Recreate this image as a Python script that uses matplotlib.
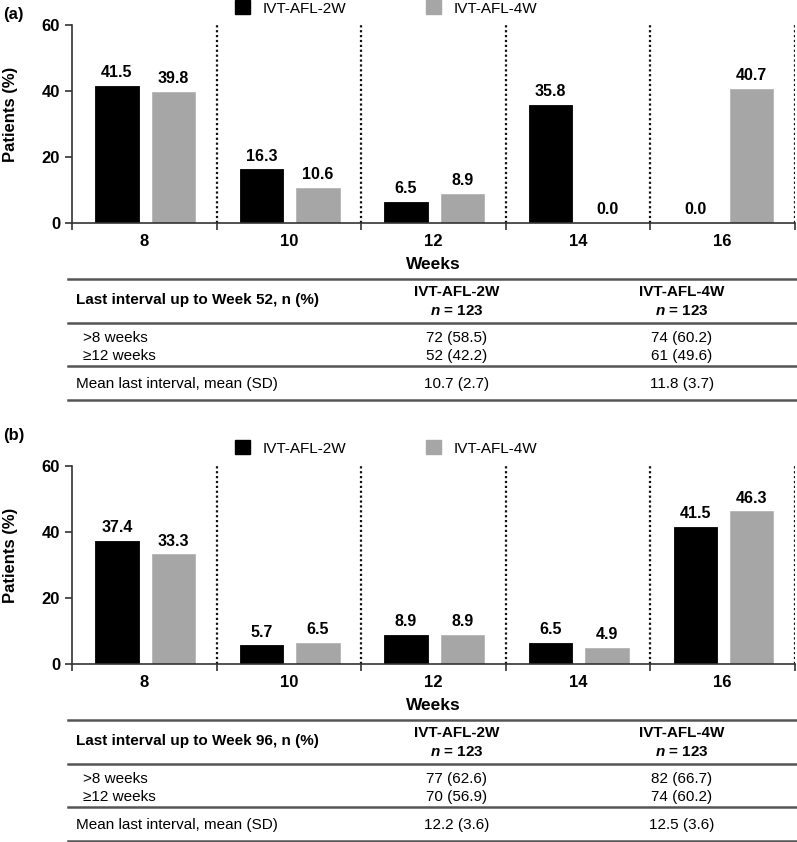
import matplotlib.pyplot as plt
from matplotlib.lines import Line2D
from matplotlib.patches import Patch
import numpy as np

plt.rcParams['font.family'] = ['Liberation Sans', 'DejaVu Sans']

weeks = ['8', '10', '12', '14', '16']
a_2w = [41.5, 16.3, 6.5, 35.8, 0.0]
a_4w = [39.8, 10.6, 8.9, 0.0, 40.7]
b_2w = [37.4, 5.7, 8.9, 6.5, 41.5]
b_4w = [33.3, 6.5, 8.9, 4.9, 46.3]

groups = ['IVT-AFL-2W', 'IVT-AFL-4W']
row_labels = ['>8 weeks', '\u226512 weeks']
mean_label = 'Mean last interval, mean (SD)'
a_title = 'Last interval up to Week 52, n (%)'
b_title = 'Last interval up to Week 96, n (%)'
a_rows = [['72 (58.5)', '74 (60.2)'], ['52 (42.2)', '61 (49.6)']]
b_rows = [['77 (62.6)', '82 (66.7)'], ['70 (56.9)', '74 (60.2)']]
a_mean = ['10.7 (2.7)', '11.8 (3.7)']
b_mean = ['12.2 (3.6)', '12.5 (3.6)']

W, H = 797, 842
black = '#000000'
grey = '#a6a6a6'

plt.rcParams['mathtext.fontset'] = 'custom'
plt.rcParams['mathtext.it'] = 'Liberation Sans:italic'
plt.rcParams['mathtext.bf'] = 'Liberation Sans:bold'
plt.rcParams['mathtext.bfit'] = 'Liberation Sans:bold:italic'
plt.rcParams['mathtext.rm'] = 'Liberation Sans'

fig = plt.figure(figsize=(W / 100, H / 100), dpi=100)


def fx(x):
    return x / W


def fy(y):
    return 1 - y / H


def panel(top, letter, letter_y, legend_y, v2, v4, title, rows, means):
    # top = pixel y of the 60 line
    bottom = top + 198
    ax = fig.add_axes([fx(72), fy(bottom), fx(795) - fx(72), (bottom - top) / H])
    x = np.arange(len(weeks))
    ax.bar(x + 0.31, v2, width=0.30, color=black, edgecolor=black, linewidth=0.6)
    ax.bar(x + 0.70, v4, width=0.30, color=grey, edgecolor='#b5b5b5', linewidth=0.6)
    for i in range(len(weeks)):
        ax.annotate(f'{v2[i]:.1f}', (x[i] + 0.31, v2[i]), xytext=(0, 4),
                    textcoords='offset points', ha='center', va='bottom',
                    fontsize=11.5, fontweight='bold')
        ax.annotate(f'{v4[i]:.1f}', (x[i] + 0.70, v4[i]), xytext=(0, 4),
                    textcoords='offset points', ha='center', va='bottom',
                    fontsize=11.5, fontweight='bold')
    for b in range(1, len(weeks) + 1):
        ax.plot([b, b], [0, 60], color='#111111', linestyle=(0, (1, 1.2)), linewidth=1.6)
    ax.set_xlim(0, len(weeks))
    ax.set_ylim(0, 60)
    ax.set_yticks([0, 20, 40, 60])
    ax.set_xticks(np.arange(len(weeks) + 1))
    ax.set_xticklabels([])
    ax.set_xticks(x + 0.5, minor=True)
    ax.set_xticklabels(weeks, minor=True, fontsize=12, fontweight='bold')
    ax.tick_params(axis='x', which='minor', length=0, pad=8)
    ax.tick_params(axis='x', which='major', length=5, width=1.2, color='#333333')
    ax.tick_params(axis='y', length=5, width=1.2, color='#333333', labelsize=12)
    for lab in ax.get_yticklabels():
        lab.set_fontweight('bold')
    ax.spines['top'].set_visible(False)
    ax.spines['right'].set_visible(False)
    for s in ['left', 'bottom']:
        ax.spines[s].set_linewidth(1.2)
        ax.spines[s].set_color('#333333')
    ax.set_xlabel('Weeks', fontsize=12.5, fontweight='bold', labelpad=6)
    ax.set_ylabel('Patients (%)', fontsize=12, fontweight='bold')
    ax.yaxis.set_label_coords(-0.075, 0.55)

    fig.text(fx(3), fy(letter_y), letter, fontsize=12, fontweight='bold', va='center')
    handles = [Patch(color=black), Patch(color=grey)]
    fig.legend(handles, groups, loc='center', bbox_to_anchor=(fx(386), fy(legend_y)),
               ncol=2, frameon=False, fontsize=11, handlelength=1.0, handleheight=1.0,
               handletextpad=0.8, columnspacing=5.2)

    # table under the chart
    t0 = bottom + 56
    line_kw = dict(color='#555555', linewidth=1.8, transform=fig.transFigure)
    for dy in [0, 44, 87, 121]:
        fig.add_artist(Line2D([fx(68), fx(797)], [fy(t0 + dy), fy(t0 + dy)], **line_kw))
    cols = [457, 682]
    fig.text(fx(76), fy(t0 + 21), title, fontsize=11, fontweight='bold', va='center')
    for c, g in zip(cols, groups):
        fig.text(fx(c), fy(t0 + 13), g, fontsize=11, fontweight='bold', ha='center', va='center')
        fig.text(fx(c), fy(t0 + 32), '$\\mathbfit{n}$ = 123', fontsize=11, fontweight='bold',
                 ha='center', va='center')
    for r, (lab, vals) in enumerate(zip(row_labels, rows)):
        yy = t0 + 59 + 18 * r
        fig.text(fx(83), fy(yy), lab, fontsize=11, va='center')
        for c, v in zip(cols, vals):
            fig.text(fx(c), fy(yy), v, fontsize=11, ha='center', va='center')
    fig.text(fx(76), fy(t0 + 105), mean_label, fontsize=11, va='center')
    for c, v in zip(cols, means):
        fig.text(fx(c), fy(t0 + 105), v, fontsize=11, ha='center', va='center')


panel(25, '(a)', 15, 8, a_2w, a_4w, a_title, a_rows, a_mean)
panel(466, '(b)', 435, 448, b_2w, b_4w, b_title, b_rows, b_mean)

fig.savefig('out.png', dpi=100)
